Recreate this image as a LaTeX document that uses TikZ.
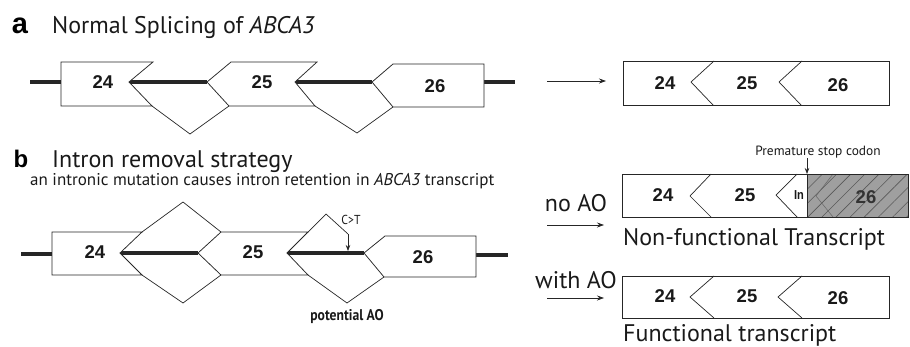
\documentclass[tikz,border=0pt]{standalone}
\usepackage{graphicx}
\usepackage{fontspec}
\setmainfont{PT Sans}
\newfontfamily\numfont{Liberation Sans}
\usetikzlibrary{arrows.meta,patterns.meta}

\begin{document}
\begin{tikzpicture}[x=1pt,y=-1pt,
	exon/.style={draw=black!85,fill=white,line width=0.75pt,line join=miter},
	intron/.style={draw=black!85,line width=3.6pt},
	splice/.style={draw=black!85,line width=0.7pt},
	num/.style={font=\numfont\bfseries\fontsize{18.5}{18.5}\selectfont,text=black!90,inner sep=0pt},
	tag/.style={font=\numfont\bfseries\fontsize{29}{29}\selectfont,anchor=base,inner sep=0pt},
	head/.style={font=\fontsize{24}{24}\selectfont,anchor=base west,inner sep=0pt,text=black!90},
	note/.style={font=\fontsize{17}{17}\selectfont,anchor=base west,inner sep=0pt,text=black!90},
	small/.style={font=\fontsize{13.4}{13.4}\selectfont,inner sep=0pt,text=black!90},
	lead/.style={-{Stealth[length=7pt,width=5pt]},line width=0.7pt,black!85},]

\useasboundingbox (0,0) rectangle (910,346);

% headings
\node[tag] (tagA) at (20,33) {a};
\node[head] (headA) at (52,33) {Normal Splicing of \textit{ABCA3}};
\node[tag,font=\numfont\bfseries\fontsize{24}{24}\selectfont] (tagB) at (21,167) {b};
\node[head] (headB) at (52,167) {Intron removal strategy};
\node[note] (subB) at (30,185) {an intronic mutation causes intron retention in \textit{ABCA3} transcript};

% a: gene
\draw[intron] (30,82) -- (61,82) (129,82) -- (207,82) (295,82) -- (372,82) (484,82) -- (515,82);
\draw[exon] (61,62) -- (153,62) -- (129,82) -- (152,106) -- (61,106) -- cycle;
\draw[exon] (231,62) -- (317,62) -- (295,82) -- (315,106) -- (229,106) -- (207,82) -- cycle;
\draw[exon] (393,64) -- (484,64) -- (484,107) -- (393,107) -- (372,82) -- cycle;
\draw[splice] (152,106) -- (190,134) -- (229,106);
\draw[splice] (315,106) -- (357,133) -- (393,107);
\node[num] (a24) at (103,82) {24};
\node[num] (a25) at (262,82) {25};
\node[num] (a26) at (435,86) {26};

% a: transcript
\coordinate (aFrom) at (547,81);
\coordinate (aTo) at (606,81);
\draw[lead] (aFrom) -- (aTo);
\draw[exon] (623,61) rectangle (889,105);
\draw[splice] (714,61) -- (691,82) -- (713,105);
\draw[splice] (802,61) -- (779,82) -- (801,105);
\node[num] (t24) at (665,83) {24};
\node[num] (t25) at (747,83) {25};
\node[num] (t26) at (838,85) {26};

% b: gene
\draw[intron] (21,254) -- (52,254) (120,253) -- (198,253) (287,253) -- (364,253) (476,255) -- (508,255);
\draw[exon] (52,232) -- (142,232) -- (120,253) -- (142,275) -- (52,275) -- cycle;
\draw[exon] (221,232) -- (308,232) -- (287,253) -- (308,275) -- (221,275) -- (198,253) -- cycle;
\draw[exon] (385,236) -- (476,236) -- (476,277) -- (384,277) -- (364,253) -- cycle;
\draw[splice] (142,232) -- (183,202) -- (221,232);
\draw[splice] (142,275) -- (183,303) -- (221,275);
\draw[splice] (308,232) -- (326,214) -- (348,234);
\draw[splice] (308,275) -- (347,303) -- (384,277);
\coordinate (mut) at (348,234);
\coordinate (mutPt) at (348,251);
\draw[lead,-{Stealth[length=6pt,width=4.5pt]}] (mut) -- (mutPt);
\node[small,font=\fontsize{13}{13}\selectfont] (ct) at (351,220) {\scalebox{0.9}[1]{C>T}};
\node[small,font=\bfseries\fontsize{15.5}{15.5}\selectfont] (ao) at (347,317) {\scalebox{0.88}[1]{potential AO}};
\node[num] (b24) at (95,252) {24};
\node[num] (b25) at (253,252) {25};
\node[num] (b26) at (423,257) {26};

% b: no AO
\node[head,anchor=base] (noAO) at (576,211) {no AO};
\coordinate (nFrom) at (547,225);
\coordinate (nTo) at (604,225);
\draw[lead] (nFrom) -- (nTo);
\draw[exon] (622,174) rectangle (908,217);
\fill[gray!75] (807,174) rectangle (908,217);
\fill[pattern={Lines[angle=45,distance=10pt,line width=0.6pt]},pattern color=black!65] (807,174) rectangle (908,217);
\draw[splice,black!60,line width=0.5pt] (833,174) -- (816,196) -- (833,217);
\draw[exon,fill=none] (622,174) rectangle (908,217);
\draw[splice] (807,174) -- (807,217);
\draw[splice] (711,174) -- (690,196) -- (711,217);
\draw[splice] (797,174) -- (776,195) -- (797,217);
\node[num] (n24) at (663,195) {24};
\node[num] (n25) at (745,195) {25};
\node[num,font=\numfont\bfseries\fontsize{13}{13}\selectfont] (nIn) at (799,195) {\scalebox{0.85}[1]{In}};
\node[num,text=black!80] (n26) at (866,197) {26};
\node[small] (stop) at (818,152) {Premature stop codon};
\coordinate (stopPt) at (807,174);
\draw[lead,-{Stealth[length=6pt,width=4.5pt]}] (stop.south -| stopPt) -- (stopPt);
\node[head] (nonf) at (623,245) {Non-functional Transcript};

% b: with AO
\node[head,anchor=base] (withAO) at (576,288) {with AO};
\coordinate (wFrom) at (547,298);
\coordinate (wTo) at (604,298);
\draw[lead] (wFrom) -- (wTo);
\draw[exon] (622,276) rectangle (889,318);
\draw[splice] (714,276) -- (690,297) -- (714,318);
\draw[splice] (802,276) -- (778,297) -- (802,318);
\node[num] (w24) at (665,296) {24};
\node[num] (w25) at (747,296) {25};
\node[num] (w26) at (838,298) {26};
\node[head] (func) at (623,341) {Functional transcript};

\end{tikzpicture}
\end{document}
